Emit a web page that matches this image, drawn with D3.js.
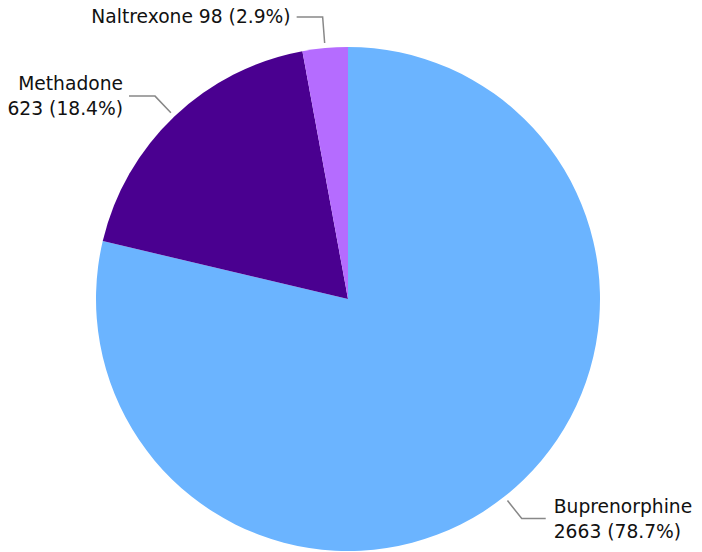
<!DOCTYPE html>
<html>
<head>
<style>
  body { margin: 0; background: #fff; }
  text { font-family: "DejaVu Sans", sans-serif; font-size: 18.7px; fill: #111; }
</style>
<script src="https://cdn.jsdelivr.net/npm/d3@7"></script>
</head>
<body>
<svg id="chart" width="702" height="552"></svg>
<script>
var names = ["Buprenorphine", "Methadone", "Naltrexone"];
var counts = [2663, 623, 98];
var pcts = ["78.7%", "18.4%", "2.9%"];
var colors = ["#6bb4ff", "#4a0090", "#b56cff"];

var svg = d3.select("#chart");
var cx = 348, cy = 299, r = 252;

var g = svg.append("g").attr("transform", "translate(" + cx + "," + cy + ")");

var pie = d3.pie().sort(null).value(function(d) { return d; });
var arcs = pie(counts);
var arc = d3.arc().innerRadius(0).outerRadius(r);

g.selectAll("path")
  .data(arcs)
  .join("path")
    .attr("d", arc)
    .attr("fill", function(d, i) { return colors[i]; });

// leader lines: from just outside the slice, out to an elbow, then horizontal
function pt(a, rr) { return [Math.sin(a) * rr, -Math.cos(a) * rr]; }

arcs.forEach(function(d, i) {
  var a = (d.startAngle + d.endAngle) / 2;
  var p0 = pt(a, r + 5);
  var p1 = pt(a, r + 28);
  var right = Math.sin(a) > 0;
  if (i == 2) p1 = [p0[0] - 2, p0[1] - 26];
  var p2 = [p1[0] + (right ? 24 : -26), p1[1]];
  g.append("polyline")
    .attr("points", [p0, p1, p2].map(function(p) { return p.join(","); }).join(" "))
    .attr("fill", "none")
    .attr("stroke", "#888")
    .attr("stroke-width", 1.5);

  var tx = p2[0] + (right ? 8 : -6);
  var t = g.append("text")
    .attr("x", tx)
    .attr("text-anchor", right ? "start" : "end");
  if (i == 2) {
    t.attr("y", p2[1] + 6).text(names[i] + " " + counts[i] + " (" + pcts[i] + ")");
  } else {
    t.append("tspan").attr("x", tx).attr("y", p2[1] - 6).text(names[i]);
    t.append("tspan").attr("x", tx).attr("y", p2[1] + 19).text(counts[i] + " (" + pcts[i] + ")");
  }
});
</script>
</body>
</html>
